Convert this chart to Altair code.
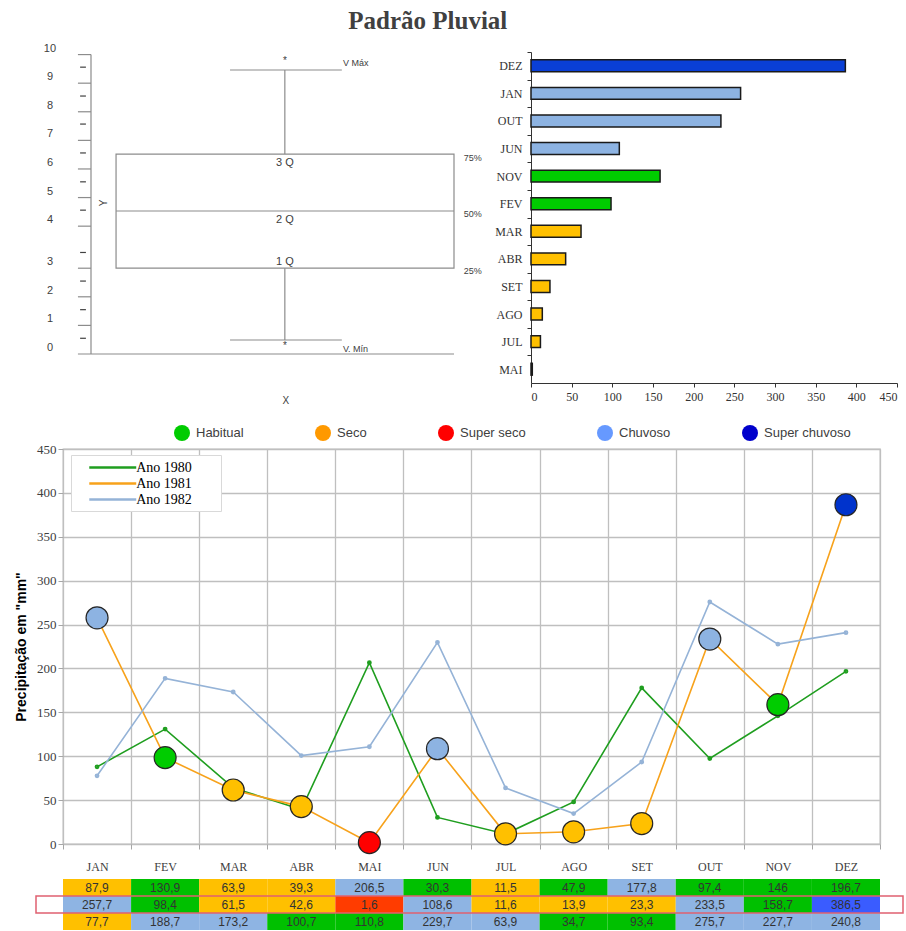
import altair as alt
import pandas as pd

# ---------------- data ----------------
meses = ["JAN", "FEV", "MAR", "ABR", "MAI", "JUN", "JUL", "AGO", "SET", "OUT", "NOV", "DEZ"]
series = ["Ano 1980", "Ano 1981", "Ano 1982"]
ano_1980 = [87.9, 130.9, 63.9, 39.3, 206.5, 30.3, 11.5, 47.9, 177.8, 97.4, 146, 196.7]
ano_1981 = [257.7, 98.4, 61.5, 42.6, 1.6, 108.6, 11.6, 13.9, 23.3, 233.5, 158.7, 386.5]
ano_1982 = [77.7, 188.7, 173.2, 100.7, 110.8, 229.7, 63.9, 34.7, 93.4, 275.7, 227.7, 240.8]
classe_1980 = ["Seco", "Habitual", "Seco", "Seco", "Chuvoso", "Habitual", "Seco", "Habitual",
               "Chuvoso", "Habitual", "Habitual", "Habitual"]
classe_1981 = ["Chuvoso", "Habitual", "Seco", "Seco", "Super seco", "Chuvoso", "Seco", "Seco",
               "Seco", "Chuvoso", "Habitual", "Super chuvoso"]
classe_1982 = ["Seco", "Chuvoso", "Chuvoso", "Habitual", "Habitual", "Chuvoso", "Chuvoso", "Habitual",
               "Habitual", "Chuvoso", "Chuvoso", "Chuvoso"]
categorias = ["Habitual", "Seco", "Super seco", "Chuvoso", "Super chuvoso"]
ordem_barras = ["Super chuvoso", "Chuvoso", "Habitual", "Seco", "Super seco"]

# schematic box-plot (diagram units)
esc_rotulos = ["0", "1", "2", "3", "4", "5", "6", "7", "8", "9", "10"]
esc_pos = [0, 1, 2, 3, 4.47, 5.47, 6.47, 7.47, 8.47, 9.47, 10.47]
esc_tracos = [0.55, 1.55, 2.55, 3.55, 5.03, 6.02, 7.03, 8.04, 9.02, 10.03]
q1, mediana, q3, v_max, v_min = 3.0, 5.0, 6.99, 9.93, 0.49

# ---------------- styles ----------------
cor_legenda = ["#00cc00", "#ff9900", "#ff0000", "#6699ff", "#0000cc"]
cor_circulo = {"Habitual": "#00cc00", "Seco": "#ffc000", "Super seco": "#ff0000",
               "Chuvoso": "#8db3e2", "Super chuvoso": "#0033cc"}
cor_celula = {"Habitual": "#00c000", "Seco": "#ffc000", "Super seco": "#ff3c00",
              "Chuvoso": "#8eb4e3", "Super chuvoso": "#3a5cff"}
cor_barra = {"Habitual": "#00cc00", "Seco": "#ffc000", "Super seco": "#ff0000",
             "Chuvoso": "#8db3e2", "Super chuvoso": "#0a3fd6"}
cor_linha = ["#1f9e1f", "#f7a21b", "#95b3d7"]
SERIF = "Liberation Serif"
SANS = "Liberation Sans"

# ---------------- tables ----------------
linhas = []
for s, vals, cls in zip(series, [ano_1980, ano_1981, ano_1982], [classe_1980, classe_1981, classe_1982]):
    for i, (m, v, c) in enumerate(zip(meses, vals, cls)):
        linhas.append(dict(serie=s, mes=m, idx=i, valor=v, classe=c,
                           rotulo=f"{v:g}".replace(".", ","),
                           cor_circ=cor_circulo[c], cor_cel=cor_celula[c], cor_bar=cor_barra[c]))
df = pd.DataFrame(linhas)
df81 = df[df.serie == "Ano 1981"].copy()
df81["rank"] = df81.classe.map({c: i for i, c in enumerate(ordem_barras)})
dfb = df81.sort_values(["rank", "valor"], ascending=[True, False])
ordem_meses_barra = list(dfb.mes)

# invisible anchor so that both rows share the same left bound
ancora = alt.Chart(pd.DataFrame(dict(a=[0]))).mark_point(opacity=0, size=1).encode(
    x=alt.value(-58), y=alt.value(10))

# ---------------- diagram ----------------
DX = alt.Scale(domain=[-0.7713, 10], nice=False, zero=False)
DY = alt.Scale(domain=[-1.014, 10.56], nice=False, zero=False)
seg = []
seg.append(dict(x=0, x2=0, y=0, y2=esc_pos[-1], t="g"))
seg.append(dict(x=-0.36, x2=10, y=0, y2=0, t="g"))
for p in esc_pos[1:]:
    seg.append(dict(x=-0.36, x2=0, y=p, y2=p, t="g"))
for d in esc_tracos:
    seg.append(dict(x=-0.30, x2=-0.14, y=d, y2=d, t="d"))
seg.append(dict(x=0.69, x2=10, y=mediana, y2=mediana, t="g"))
seg.append(dict(x=5.34, x2=5.34, y=q3, y2=v_max, t="g"))
seg.append(dict(x=5.34, x2=5.34, y=v_min, y2=q1, t="g"))
seg.append(dict(x=3.83, x2=6.91, y=v_max, y2=v_max, t="g"))
seg.append(dict(x=3.83, x2=6.91, y=v_min, y2=v_min, t="g"))
dseg = pd.DataFrame(seg)
dseg["cor"] = dseg.t.map({"g": "#8c8c8c", "d": "#404040"})

regras = alt.Chart(dseg).mark_rule(strokeWidth=1.2).encode(
    x=alt.X("x:Q", scale=DX, axis=None), x2="x2:Q",
    y=alt.Y("y:Q", scale=DY, axis=None), y2="y2:Q",
    stroke=alt.Stroke("cor:N", scale=None))
caixa = alt.Chart(pd.DataFrame([dict(x=0.69, x2=10, y=q1, y2=q3)])).mark_rect(
    fill="#ffffff", fillOpacity=0, stroke="#8c8c8c", strokeWidth=1.2).encode(
    x=alt.X("x:Q", scale=DX, axis=None), x2="x2:Q",
    y=alt.Y("y:Q", scale=DY, axis=None), y2="y2:Q")
rot_esc = alt.Chart(pd.DataFrame(dict(x=[-1.13] * len(esc_pos), y=esc_pos, t=esc_rotulos))).mark_text(
    font=SANS, fontSize=11, color="#404040", dy=-6).encode(
    x=alt.X("x:Q", scale=DX, axis=None), y=alt.Y("y:Q", scale=DY, axis=None), text="t:N")
textos_c = pd.DataFrame([
    dict(x=5.34, y=6.68, t="3 Q"),
    dict(x=5.34, y=4.69, t="2 Q"),
    dict(x=5.34, y=3.22, t="1 Q"),
])
textos_p = pd.DataFrame([
    dict(x=5.34, y=10.24, t="*"),
    dict(x=5.34, y=0.28, t="*"),
    dict(x=5.37, y=-1.64, t="X"),
])
textos_l = pd.DataFrame([
    dict(x=10.27, y=6.85, t="75%"),
    dict(x=10.27, y=4.90, t="50%"),
    dict(x=10.27, y=2.90, t="25%"),
    dict(x=6.94, y=10.17, t="V Máx"),
    dict(x=6.94, y=0.17, t="V. Mín"),
])
def camada_txt(d, al, tam):
    return alt.Chart(d).mark_text(font=SANS, color="#404040", align=al, fontSize=tam).encode(
        x=alt.X("x:Q", scale=DX, axis=None), y=alt.Y("y:Q", scale=DY, axis=None), text="t:N")
rot_y = alt.Chart(pd.DataFrame([dict(x=0.36, y=5.28, t="Y")])).mark_text(
    font=SANS, fontSize=10, color="#404040", angle=270).encode(
    x=alt.X("x:Q", scale=DX, axis=None), y=alt.Y("y:Q", scale=DY, axis=None), text="t:N")
diagrama = alt.layer(regras, caixa, rot_esc, camada_txt(textos_c, "center", 11),
                     camada_txt(textos_p, "center", 10), camada_txt(textos_l, "left", 9),
                     rot_y, ancora).properties(width=391, height=331)

# ---------------- bar chart ----------------
passo = 331 / 12
barras = alt.Chart(dfb).mark_bar(stroke="#1a1a1a", strokeWidth=1.5).encode(
    y=alt.Y("mes:N", sort=ordem_meses_barra,
            scale=alt.Scale(paddingInner=0.57, paddingOuter=0.285),
            axis=alt.Axis(title=None, tickOffset=-passo / 2, labelOffset=passo / 2, tickSize=4,
                          tickColor="#333333", domainColor="#333333", labelFont=SERIF,
                          labelFontSize=12, labelColor="#333333", labelPadding=5)),
    x=alt.X("valor:Q", scale=alt.Scale(domain=[0, 450], nice=False),
            axis=alt.Axis(title=None, values=list(range(0, 451, 50)), grid=False, tickSize=4,
                          tickColor="#333333", domainColor="#333333", labelFont=SERIF,
                          labelFontSize=12, labelColor="#333333", labelPadding=4)),
    fill=alt.Fill("cor_bar:N", scale=None)).properties(width=366, height=331)

linha_sup = alt.hconcat(diagrama, barras, spacing=77, bounds="flush")

# ---------------- line chart ----------------
X_MES = alt.X("mes:N", sort=meses, scale=alt.Scale(type="band", paddingInner=0, paddingOuter=0),
              axis=alt.Axis(title=None, tickBand="extent", grid=True, gridColor="#bfbfbf",
                            gridWidth=1.3, tickSize=5, tickColor="#a6a6a6", domain=False,
                            labelFont=SERIF, labelFontSize=12, labelColor="#404040",
                            labelPadding=12, labelAngle=0))
Y_VAL = alt.Y("valor:Q", scale=alt.Scale(domain=[0, 450], nice=False),
              axis=alt.Axis(values=list(range(0, 451, 50)), title='Precipitação em "mm"',
                            titleFont=SANS, titleFontSize=14, titleFontWeight="bold",
                            titleColor="#000000", titlePadding=8, gridColor="#bfbfbf",
                            gridWidth=1.3, tickSize=5, tickColor="#a6a6a6", domain=False,
                            labelFont=SERIF, labelFontSize=13, labelColor="#404040",
                            labelPadding=2))
ESC_ANO = alt.Scale(domain=series, range=cor_linha)
PAD_TXT = "\u00a0" * 7 + "\u200b"
base = alt.Chart(df).encode(x=X_MES, y=Y_VAL)
l_linhas = base.mark_line(strokeWidth=1.6).encode(
    stroke=alt.Stroke("serie:N", scale=ESC_ANO,
                      legend=alt.Legend(orient="none", legendX=8, legendY=6, title=None,
                                        symbolType="M-3.24,0H3.24", symbolSize=210,
                                        symbolStrokeWidth=2.5, symbolOffset=29.25,
                                        labelFont=SERIF, labelFontSize=14, labelColor="#000000",
                                        padding=4, strokeColor="#d9d9d9", fillColor="#ffffff",
                                        rowPadding=-1.5, labelOffset=15,
                                        labelExpr="datum.label + '" + PAD_TXT + "'")),
    order=alt.Order("idx:Q"))
l_pontos = base.mark_point(filled=False, size=8, strokeWidth=2, opacity=1).encode(
    stroke=alt.Stroke("serie:N", scale=ESC_ANO, legend=None))
l_circ = alt.Chart(df81).mark_circle(size=484, stroke="#262626", strokeWidth=1.2, opacity=1).encode(
    x=X_MES, y=Y_VAL, fill=alt.Fill("cor_circ:N", scale=None))
l_leg = alt.Chart(pd.DataFrame(dict(classe=categorias, mes=["JAN"] * 5, valor=[0] * 5))).mark_circle(
    size=0, opacity=1).encode(
    x=X_MES, y=Y_VAL,
    color=alt.Color("classe:N", sort=categorias, scale=alt.Scale(domain=categorias, range=cor_legenda),
                    legend=alt.Legend(orient="none", direction="horizontal", legendX=111, legendY=-24,
                                      title=None, symbolSize=256, symbolType="circle",
                                      symbolStrokeWidth=0, labelFont=SANS, labelFontSize=13,
                                      labelColor="#404040", columnPadding=71, padding=0,
                                      labelOffset=6)))
grafico = alt.layer(l_linhas, l_pontos, l_circ, l_leg, ancora).properties(
    width=817, height=395, view=alt.ViewBackground(stroke="#bfbfbf", strokeWidth=1.3))

# ---------------- data table ----------------
tb = alt.Chart(df).encode(
    x=alt.X("mes:N", sort=meses, scale=alt.Scale(type="band", paddingInner=0, paddingOuter=0), axis=None),
    y=alt.Y("serie:N", sort=series, scale=alt.Scale(paddingInner=0, paddingOuter=0), axis=None))
celulas = tb.mark_rect().encode(fill=alt.Fill("cor_cel:N", scale=None))
valores = tb.mark_text(font=SANS, fontSize=12, color="#333333").encode(text="rotulo:N")
destaque = alt.Chart(pd.DataFrame(dict(serie=["Ano 1981"]))).mark_rect(
    fill="#ffffff", fillOpacity=0, stroke="#e06070", strokeWidth=1.5).encode(
    y=alt.Y("serie:N", sort=series, axis=None), x=alt.value(-27), x2=alt.value(840))
tabela = alt.layer(celulas, valores, destaque).properties(width=817, height=51)

inferior = alt.vconcat(grafico, tabela, spacing=35, bounds="flush").resolve_scale(
    color="independent", stroke="independent").resolve_legend(color="independent", stroke="independent")

chart = alt.vconcat(linha_sup, inferior, spacing=18).resolve_scale(
    color="independent", stroke="independent").resolve_legend(
    color="independent", stroke="independent").properties(
    title=alt.TitleParams("Padrão Pluvial", font=SERIF, fontSize=25, fontWeight="bold",
                          color="#404040", anchor="middle", dx=-26, offset=9),
    padding={"left": 3, "top": 8, "right": 0, "bottom": 0}
).configure_view(stroke=None)

chart.save("out.html", embed_options={"renderer": "svg", "actions": False})
